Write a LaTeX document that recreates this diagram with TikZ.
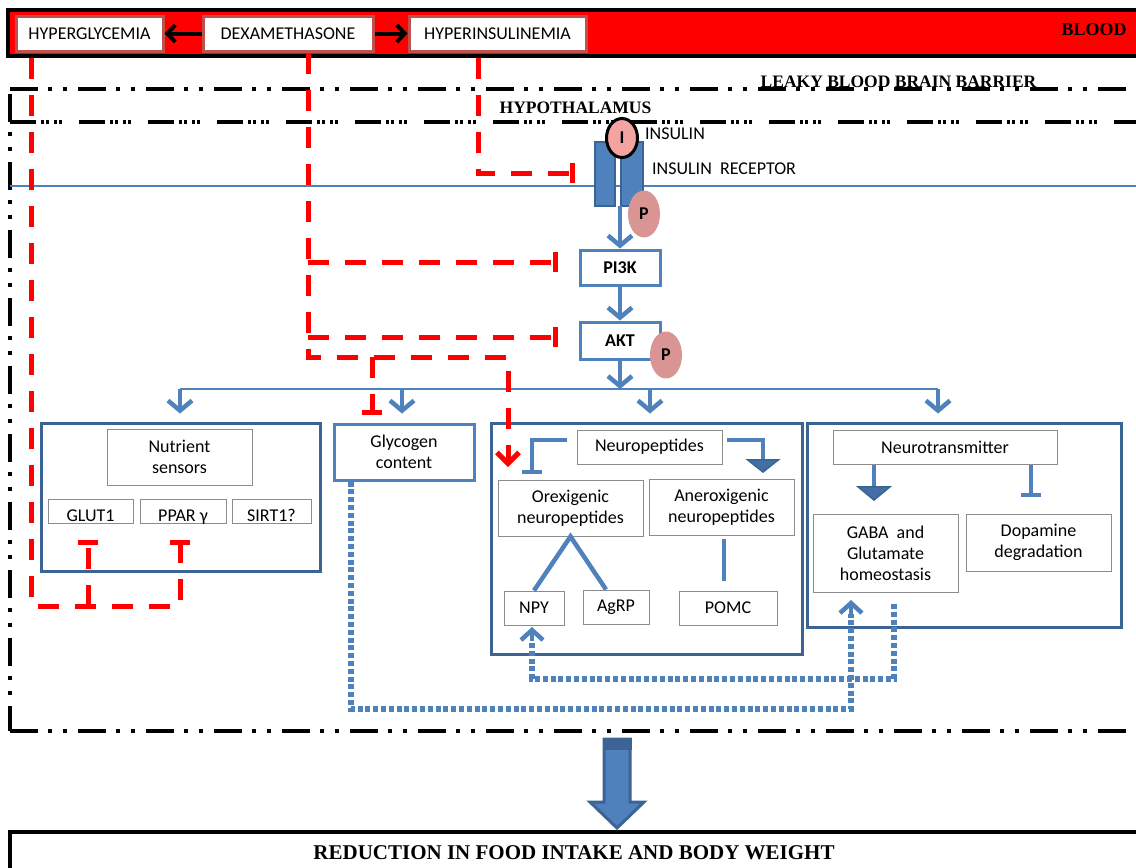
\documentclass[tikz,border=0pt]{standalone}
\usepackage{fontspec}
\setmainfont{Liberation Serif}
\newfontfamily\carl{Carlito}
\usetikzlibrary{arrows.meta,shapes.geometric}
\definecolor{bl}{HTML}{4F81BD}
\definecolor{bd}{HTML}{3B6494}
\definecolor{tri}{HTML}{446FA5}
\definecolor{gb}{HTML}{8C8C8C}
\definecolor{rb}{HTML}{C0504D}
\definecolor{pk}{HTML}{D99594}
\definecolor{ipk}{HTML}{F4A3A3}
\begin{document}
\begin{tikzpicture}[x=1pt,y=-1pt,
  cf/.style={font=\carl\fontsize{18pt}{21pt}\selectfont},
  cfb/.style={font=\carl\bfseries\fontsize{18pt}{21pt}\selectfont},
  sfb/.style={font=\bfseries\fontsize{17.5pt}{20pt}\selectfont},
  bbox/.style={cf, draw=rb, line width=3pt, fill=white, inner sep=0pt, minimum height=35pt},
  outbox/.style={draw=bd, line width=3pt, inner sep=0pt},
  inbox/.style={cf, draw=gb, line width=1pt, fill=white, inner sep=0pt, align=center},
  stepbox/.style={cfb, draw=bl, line width=3pt, fill=white, inner sep=0pt, minimum width=80pt},
  recep/.style={draw=bd, fill=bl, line width=2pt, inner sep=0pt, minimum height=64pt},
  pcirc/.style={ellipse, fill=pk, inner sep=0pt, minimum width=32pt, minimum height=47pt, cfb},
  barrow/.style={line width=4.5pt, bl, -{Straight Barb[length=10pt,width=24pt]}},
  bthick/.style={line width=4.5pt, bl},
  tbar/.style={-{Bar[width=20pt]}},
  tri1/.style={-{Triangle[width=35pt,length=14pt,line width=1.5pt,fill=tri,color=bd]}},
  dotl/.style={draw=bl, line width=5.5pt, line cap=butt, dash pattern=on 5pt off 2.8pt},
  dothead/.style={bl, line width=4.5pt, -{Straight Barb[length=10pt,width=22pt]}},
  redd/.style={line width=5pt, red, dash pattern=on 21pt off 16pt},
  redarrow/.style={redd, -{Straight Barb[length=11pt,width=22pt]}},
  blackarrow/.style={line width=4pt, black, -{Straight Barb[length=8pt,width=17pt]}},
  bbbline/.style={line width=3.5pt, black, dash pattern=on 28pt off 10pt on 4pt off 11pt on 4pt off 11pt},
  hypline/.style={line width=3.5pt, black, dash pattern=on 26pt off 5pt on 3pt off 2pt on 3pt off 5pt on 3pt off 2pt on 3pt off 17pt}
]
\useasboundingbox (0,0) rectangle (1136,868);

% ---------- blood ----------
\path[draw=black, line width=4pt, fill=red] (8,10) rectangle (1150,56);
\node[anchor=base, font=\bfseries\fontsize{18pt}{20pt}\selectfont] (blood) at (1094,35) {BLOOD};
\node[bbox, minimum width=147pt] (hg) at (89.5,33.5) {HYPERGLYCEMIA};
\node[bbox, minimum width=170pt] (dex) at (288,33.5) {DEXAMETHASONE};
\node[bbox, minimum width=177pt] (hi) at (497.5,33.5) {HYPERINSULINEMIA};
\draw[blackarrow] (dex.west) -- (hg.east);
\draw[blackarrow] (dex.east) -- (hi.west);

% ---------- barriers ----------
\draw[bbbline] (10,89) -- (1145,89);
\node[sfb, anchor=base] (bbb) at (898.5,87) {LEAKY BLOOD BRAIN BARRIER};
\node[sfb, anchor=base] (hyp) at (575.5,113) {HYPOTHALAMUS};
\draw[hypline] (10,122) -- (1145,122);
\draw[bbbline] (10,94) -- (10,731);
\draw[bbbline] (10,731) -- (1145,731);
\draw[bl, line width=1.5pt] (10,186) -- (1145,186);

% ---------- receptor ----------
\node[recep, minimum width=20pt] (rl) at (605,174) {};
\node[recep, minimum width=22pt] (rr) at (632,174) {};
\node[ellipse, draw=black, line width=3pt, fill=ipk, inner sep=0pt, minimum width=31pt, minimum height=39pt, cfb] (ins) at (622,138) {I};
\node[cf, anchor=west, inner sep=0pt] (insl) at (645,134) {INSULIN};
\node[cf, anchor=west, inner sep=0pt] (recl) at (652,169) {INSULIN\ \ RECEPTOR};

\node[stepbox, minimum height=35pt] (pi3k) at (620,267.5) {PI3K};
\node[stepbox, minimum height=37pt] (akt) at (620,340.5) {AKT};
\coordinate (rbot) at (620,206);
\coordinate (split) at (620,389);
\draw[barrow] (rbot) -- (pi3k.north);
\draw[barrow] (pi3k.south) -- (akt.north);
\draw[barrow] (akt.south) -- (split);
\node[pcirc] (p1) at (644,214) {P};
\node[pcirc] (p2) at (666,355) {P};

% ---------- level-2 boxes ----------
\node[outbox, minimum width=279pt, minimum height=148pt] (nutr) at (180.5,497) {};
\node[outbox, draw=bl, cf, align=center, minimum width=140pt, minimum height=56pt] (glyc) at (404,452) {Glycogen\\content};
\node[outbox, minimum width=311pt, minimum height=231pt] (neuro) at (646.5,538.5) {};
\node[outbox, minimum width=314pt, minimum height=204pt] (ntx) at (964,525) {};

\coordinate (d1) at (180,389);
\coordinate (d2) at (402,389);
\coordinate (d3) at (650,389);
\coordinate (d4) at (938,389);
\draw[bl, line width=2pt] (d1) -- (d4);
\draw[barrow, shorten >=8pt] (d1) -- (d1 |- nutr.north);
\draw[barrow, shorten >=9pt] (d2) -- (d2 |- glyc.north);
\draw[barrow, shorten >=8pt] (d3) -- (d3 |- neuro.north);
\draw[barrow, shorten >=8pt] (d4) -- (d4 |- ntx.north);

% nutrient sensors
\node[inbox, minimum width=145pt, minimum height=56pt] (nsens) at (179.5,457) {Nutrient\\sensors};
\node[inbox, minimum width=85pt, minimum height=24pt] (glut) at (90.5,511) {};
\node[inbox, minimum width=86pt, minimum height=24pt] (ppar) at (183,511) {};
\node[inbox, minimum width=79pt, minimum height=24pt] (sirt) at (271.5,511) {};
\node[cf, anchor=base, inner sep=0pt] at (glut.south) [yshift=2pt] {GLUT1};
\node[cf, anchor=base, inner sep=0pt] at (ppar.south) [yshift=2pt] {PPAR γ};
\node[cf, anchor=base, inner sep=0pt] at (sirt.south) [yshift=2pt] {SIRT1?};

% neuropeptides
\node[inbox, minimum width=145pt, minimum height=34pt] (npep) at (649.5,447) {Neuropeptides};
\node[inbox, minimum width=145pt, minimum height=56pt] (orex) at (570.5,508) {Orexigenic\\neuropeptides};
\node[inbox, minimum width=145pt, minimum height=56pt] (anor) at (721.5,507) {Aneroxigenic\\neuropeptides};
\node[inbox, minimum width=60pt, minimum height=34pt] (npy) at (534,608) {NPY};
\node[inbox, minimum width=66pt, minimum height=34pt] (agrp) at (616,607) {AgRP};
\node[inbox, minimum width=98pt, minimum height=34pt] (pomc) at (728,608) {POMC};
\coordinate (ia) at (567,440);
\coordinate (ib) at (532,474);
\coordinate (ic) at (727,440);
\coordinate (id) at (763,473);
\draw[bthick, tbar] (ia) -| (ib);
\draw[bthick, tri1] (ic) -| (id);
\draw[bthick] (npy.north) -- (orex.south) -- ([xshift=-10pt]agrp.north);
\draw[bthick, shorten <=3pt, shorten >=10pt] ([xshift=2.5pt]anor.south) -- ([xshift=2.5pt]anor.south |- pomc.north);

% neurotransmitter
\node[inbox, minimum width=224pt, minimum height=34pt] (ntr) at (945,447) {Neurotransmitter};
\node[inbox, minimum width=145pt, minimum height=78pt] (gaba) at (885.5,553) {GABA\ \ and\\Glutamate\\homeostasis};
\node[inbox, minimum width=145pt, minimum height=57pt] (dopa) at (1038.5,542.5) {Dopamine\\degradation};
\coordinate (ga) at (874,465);
\coordinate (gb) at (874,501);
\coordinate (da) at (1031,465);
\coordinate (db) at (1031,497);
\draw[bthick, -{Triangle[width=36pt,length=15pt,line width=1.5pt,fill=tri,color=bd]}] (ga) -- (gb);
\draw[bthick, tbar] (da) -- (db);

% dotted feedback
\coordinate (g1) at (351,709);
\coordinate (g2) at (851,709);
\coordinate (g3) at (851,600);
\coordinate (g4) at (851,614);
\path[dotl] ([xshift=-53pt]glyc.south) -- (g1) -- (g2) -- (g4);
\draw[dothead] (g4) -- (g3);
\coordinate (n1) at (894,604);
\coordinate (n2) at (894,679);
\coordinate (n3) at (532,679);
\coordinate (n4) at (532,627);
\coordinate (n5) at (532,641);
\path[dotl] (n1) -- (n2) -- (n3) -- (n5);
\draw[dothead] (n5) -- (n4);

% ---------- red inhibitions ----------
\coordinate (hg0) at (31,58);
\coordinate (hg1) at (180,606);
\coordinate (hg2) at (180,540);
\coordinate (hg3) at (88,606);
\coordinate (hg4) at (88,540);
\draw[redd, tbar] (hg0) |- (hg1) -- (hg2);
\draw[redd, tbar] (hg3) -- (hg4);

\coordinate (dx1) at (308,357);
\coordinate (dx2) at (508,357);
\coordinate (dx3) at (508,467);
\draw[redarrow] ([xshift=20pt]dex.south) -- (dx1) -- (dx2) -- (dx3);
\coordinate (dk1) at (308,262);
\coordinate (dk2) at (558,262);
\coordinate (dk3) at (308,337);
\coordinate (dk4) at (558,337);
\coordinate (dk5) at (372,357);
\coordinate (dk6) at (372,415);
\draw[redd, tbar] (dk1) -- (dk2);
\draw[redd, tbar] (dk3) -- (dk4);
\draw[redd, tbar] (dk5) -- (dk6);

\coordinate (hi0) at (478,58);
\coordinate (hi1) at (575,173);
\draw[redd, tbar] (hi0) |- (hi1);

% ---------- outcome ----------
\path[draw=bd, fill=bl, line width=3pt] (604,739) -- (630,739) -- (630,802) -- (644,802) -- (617,828) -- (590,802) -- (604,802) -- cycle;
\fill[bd] (602.5,737.5) rectangle (631.5,750);
\draw[black, line width=4pt] (10,875) |- (1150,832);
\node[anchor=base, font=\bfseries\fontsize{21pt}{24pt}\selectfont] (res) at (574,859) {REDUCTION IN FOOD INTAKE AND BODY WEIGHT};
\end{tikzpicture}
\end{document}
